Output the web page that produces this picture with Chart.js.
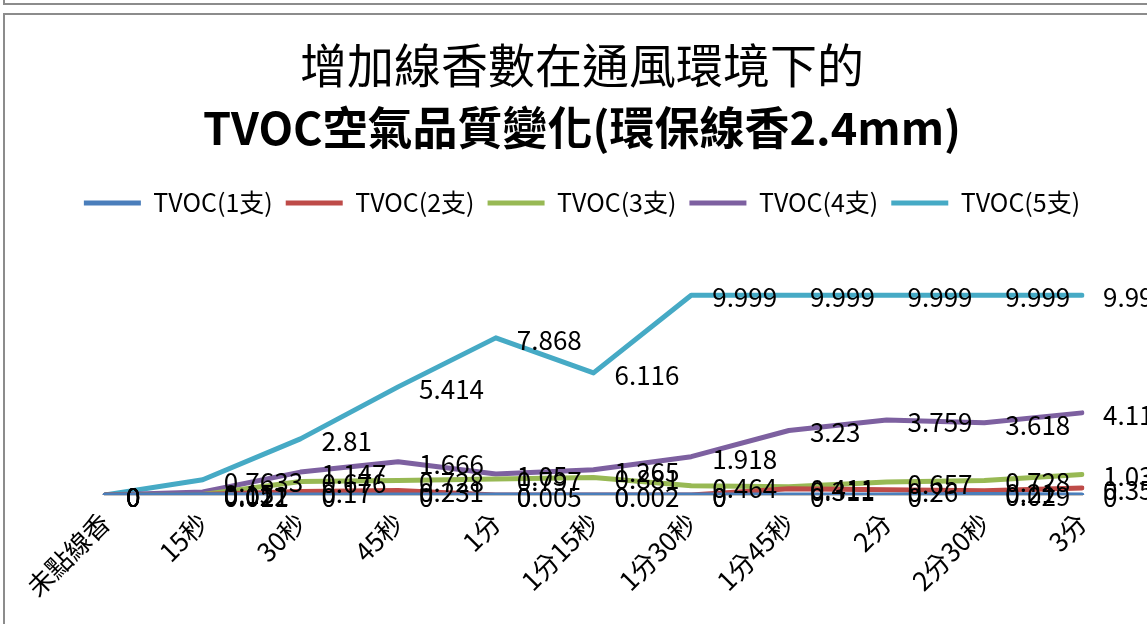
<!DOCTYPE html>
<html>
<head>
<meta charset="utf-8">
<script src="https://cdn.jsdelivr.net/npm/chart.js@4"></script>
<style>
  html, body { margin: 0; padding: 0; background: #fff; overflow: hidden; }
  body { width: 1147px; height: 624px; position: relative; }
  #topbox { position: absolute; left: 3px; top: -10px; width: 1200px; height: 11px; border: 2px solid #8c8c8c; }
  #frame { position: absolute; left: 3px; top: 13px; width: 1154px; height: 660px; border: 2px solid #8c8c8c; }
  canvas { display: block; }
</style>
</head>
<body>
<div id="topbox"></div>
<div id="frame"><canvas id="chart" width="1154" height="660"></canvas></div>
<script>
// time points and TVOC readings (ppm)
const categories = ['未點線香', '15秒', '30秒', '45秒', '1分', '1分15秒', '1分30秒', '1分45秒', '2分', '2分30秒', '3分'];
const tvoc1 = [0, 0.011, 0, 0, 0, 0, 0, 0, 0, 0.029, 0];
const tvoc2 = [0, 0.021, 0.17, 0.231, 0.005, 0.002, 0, 0.311, 0.26, 0.21, 0.356];
const tvoc3 = [0, 0.022, 0.676, 0.728, 0.797, 0.881, 0.464, 0.411, 0.657, 0.728, 1.032];
const tvoc4 = [0, 0.15, 1.147, 1.666, 1.05, 1.265, 1.918, 3.23, 3.759, 3.618, 4.112];
const tvoc5 = [0, 0.7633, 2.81, 5.414, 7.868, 6.116, 9.999, 9.999, 9.999, 9.999, 9.999];
const seriesNames = ['TVOC(1支)', 'TVOC(2支)', 'TVOC(3支)', 'TVOC(4支)', 'TVOC(5支)'];
const seriesColors = ['#4A7EBB', '#BE4B48', '#98B954', '#7D60A0', '#46AAC5'];

const fontFamily = '"Noto Sans CJK TC", "Noto Sans", sans-serif';
Chart.defaults.font.family = fontFamily;
Chart.defaults.color = '#000';

// value labels to the right of every point, like Excel's "right" position
const valueLabels = {
  id: 'valueLabels',
  afterDatasetsDraw(chart) {
    const ctx = chart.ctx;
    ctx.save();
    ctx.font = '26px ' + fontFamily;
    ctx.fillStyle = '#000';
    ctx.textAlign = 'left';
    ctx.textBaseline = 'middle';
    chart.data.datasets.forEach((ds, i) => {
      chart.getDatasetMeta(i).data.forEach((pt, j) => {
        ctx.fillText(String(ds.data[j]), pt.x + 21, pt.y + 2);
      });
    });
    ctx.restore();
  }
};

const allSeries = [tvoc1, tvoc2, tvoc3, tvoc4, tvoc5];
const datasets = allSeries.map((values, i) => ({
  label: seriesNames[i],
  data: values,
  borderColor: seriesColors[i],
  backgroundColor: seriesColors[i],
  borderWidth: 5,
  borderCapStyle: 'round',
  borderJoinStyle: 'round',
  pointRadius: 0,
  tension: 0
}));

new Chart(document.getElementById('chart'), {
  type: 'line',
  data: { labels: categories, datasets: datasets },
  plugins: [valueLabels],
  options: {
    responsive: false,
    animation: false,
    plugins: {
      title: {
        display: true,
        text: '增加線香數在通風環境下的',
        color: '#000',
        font: { size: 47, weight: 'normal' },
        padding: { top: 22, bottom: 0 }
      },
      subtitle: {
        display: true,
        text: 'TVOC空氣品質變化(環保線香2.4mm)',
        color: '#000',
        font: { size: 45, weight: 'bold' },
        padding: { top: 8, bottom: 22 }
      },
      legend: {
        position: 'top',
        labels: {
          boxWidth: 57,
          boxHeight: 5,
          padding: 13,
          color: '#000',
          font: { size: 25 },
          generateLabels: (chart) => Chart.defaults.plugins.legend.labels.generateLabels(chart)
            .map(l => Object.assign(l, { lineWidth: 0 }))
        }
      },
      tooltip: { enabled: false }
    },
    scales: {
      x: {
        grid: { display: false, drawTicks: false },
        border: { display: true, color: '#868686', width: 1.5 },
        ticks: { autoSkip: false, minRotation: 45, maxRotation: 45, padding: 12, color: '#000', font: { size: 26 } },
        afterFit(s) {
          s.paddingLeft = 100;
          s.paddingRight = 77;
          s.height = 180;
        }
      },
      y: {
        display: false,
        min: 0,
        max: 13.5
      }
    }
  }
});
</script>
</body>
</html>
